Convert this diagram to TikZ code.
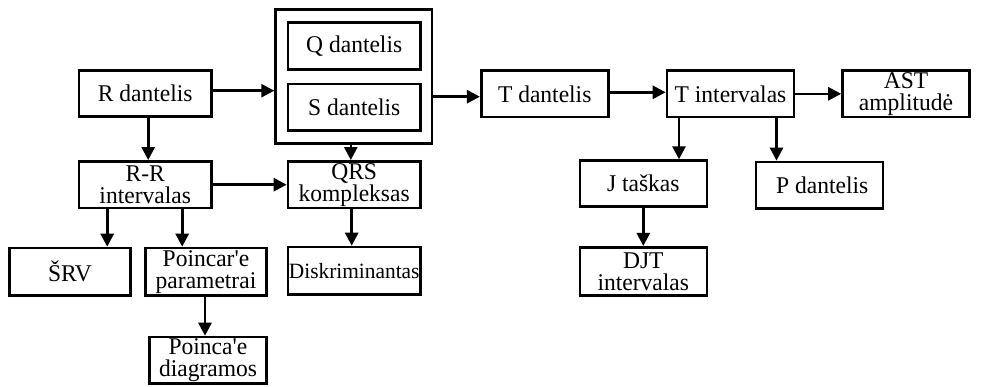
\documentclass[tikz,border=0pt]{standalone}
\usepackage{fontspec}
\setmainfont{Liberation Serif}[FakeStretch=0.98]
\usetikzlibrary{arrows.meta}
\begin{document}
\begin{tikzpicture}[x=1pt,y=-1pt,
  box/.style={draw, line width=2.6pt, rectangle, inner sep=0pt, align=center,
    font=\fontsize{24}{22}\selectfont},
  wide/.style={box, minimum width=132.4pt, minimum height=46.7pt},
  narrow/.style={box, minimum width=120.8pt, minimum height=47.4pt},
  tbox/.style={box, minimum width=127pt, minimum height=46.4pt},
  arr/.style={line width=2.6pt, -{Triangle[length=13pt,width=13pt]}}]
\useasboundingbox (0,0) rectangle (994,386);

% R branch
\node[wide, minimum height=46.1pt] (R) at (145.2,93.7) {R dantelis};
\node[wide] (RR) at (145.2,184.7) {R-R\\intervalas};
\node[narrow] (SRV) at (70,271.7) {ŠRV};
\node[narrow] (PP) at (206,271.7) {Poincar\textquotesingle e\\parametrai};
\node[box, minimum width=116.8pt, minimum height=46.2pt] (PD) at (208,360.1) {Poinca\textquotesingle e\\diagramos};

% Q and S waves inside one frame
\node[box, minimum width=156.4pt, minimum height=134.1pt] (QS) at (353.8,76.7) {};
\node[wide, minimum height=47.1pt] (Q) at (354.2,45.8) {Q dantelis};
\node[wide] (S) at (354.2,107.4) {S dantelis};
\node[wide] (QRS) at (354.2,184.7) {QRS\\kompleksas};
\node[wide, minimum height=47.4pt, font=\fontsize{21.8}{22}\selectfont] (DK) at (354.2,270.7) {Diskriminantas};

% T branch
\node[tbox] (T) at (544.7,93.8) {T dantelis};
\node[tbox] (TI) at (730.5,93.8) {T intervalas};
\node[tbox] (AST) at (906,93.8) {AST\\amplitudė};
\node[tbox, minimum height=45.8pt] (J) at (643.3,183.5) {J taškas};
\node[tbox, minimum height=46.7pt] (P) at (819.3,185.3) {\hspace*{6pt}P dantelis};
\node[tbox, minimum height=48.1pt] (DJT) at (643.3,271.3) {DJT\\intervalas};

% connectors
\draw[arr] ([yshift=3pt]R.east) -- ([yshift=3pt]R.east -| QS.west);
\draw[arr] ([xshift=3pt]R.south) -- ([xshift=3pt]R.south |- RR.north);
\draw[arr] (RR) -- (QRS);
\draw[arr] ([xshift=-38pt]RR.south) -- ([xshift=-38pt]RR.south |- SRV.north);
\draw[arr] ([xshift=37pt]RR.south) -- ([xshift=37pt]RR.south |- PP.north);
\draw[arr] ([xshift=-1pt]PP.south) -- ([xshift=-1pt]PP.south |- PD.north);
\draw[arr] ([xshift=-3pt]QS.south) -- ([xshift=-3pt]QS.south |- QRS.north);
\draw[arr] ([xshift=-2.5pt]QRS.south) -- ([xshift=-2.5pt]QRS.south |- DK.north);
\draw[arr] (QS.east |- 0,96.7) -- (T.west |- 0,96.7);
\draw[arr] ([yshift=1.5pt]T.east) -- ([yshift=1.5pt]T.east -| TI.west);
\draw[arr] (TI) -- (AST);
\draw[arr] ([xshift=-51.5pt]TI.south) -- ([xshift=-51.5pt]TI.south |- J.north);
\draw[arr] ([xshift=46pt]TI.south) -- ([xshift=46pt]TI.south |- P.north);
\draw[arr] (J) -- (DJT);
\end{tikzpicture}
\end{document}
